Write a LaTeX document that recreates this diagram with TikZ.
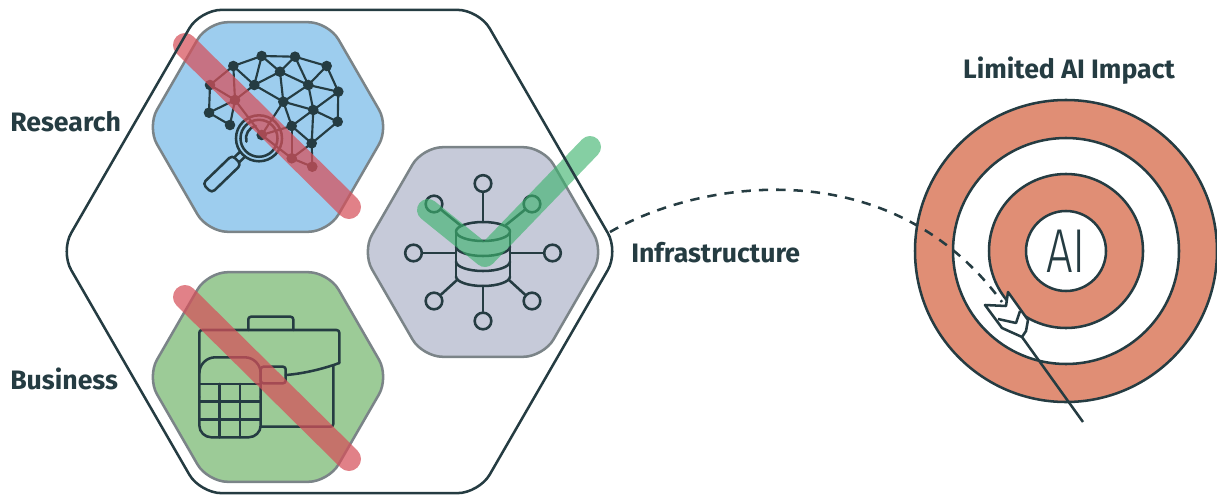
\documentclass[tikz,border=0pt]{standalone}
\usepackage{fontspec}
\setmainfont{Fira Sans}
\newfontfamily\lightfont{Fira Sans Light}

\definecolor{ink}{HTML}{253C42}
\definecolor{tileline}{HTML}{7B8488}
\definecolor{resblue}{HTML}{9DCDEE}
\definecolor{infragray}{HTML}{C6CAD9}
\definecolor{busgreen}{HTML}{9CCB97}
\definecolor{strikered}{HTML}{D6505A}
\definecolor{checkgreen}{HTML}{3DB36E}
\definecolor{ringorange}{HTML}{E08E75}

% flat-topped hexagon: [style]{cx}{cy}{R}, started mid-edge so every corner gets rounded
\newcommand{\hexagon}[4][]{%
  \path[#1] (#2,{#3-0.866*#4}) -- ({#2+#4/2},{#3-0.866*#4}) -- ({#2+#4},#3)
    -- ({#2+#4/2},{#3+0.866*#4}) -- ({#2-#4/2},{#3+0.866*#4})
    -- ({#2-#4},#3) -- ({#2-#4/2},{#3-0.866*#4}) -- cycle;}

\begin{document}
\begin{tikzpicture}[x=0.75pt,y=-0.75pt,
    tile/.style={draw=tileline,line width=1.9pt,rounded corners=15pt},
    frame/.style={draw=ink,line width=1.9pt,rounded corners=16pt},
    icon/.style={draw=ink,line width=1.9pt,line cap=round,line join=round},
    net/.style={draw=ink,line width=1.6pt},
    port/.style={circle,draw=ink,line width=1.9pt,minimum size=12.5pt,inner sep=0pt},
    strike/.style={draw=strikered,line width=18pt,line cap=round,opacity=0.72},
    tick/.style={draw=checkgreen,line width=16.5pt,line cap=round,line join=round,opacity=0.63},
    ring/.style={draw=ink,line width=1.9pt},
    heading/.style={text=ink,font=\bfseries\fontsize{20}{22}\selectfont,inner sep=0pt}]

  \useasboundingbox (0,0) rectangle (1217,496);

  % the three tiles
  \hexagon[tile,fill=resblue]{268}{127}{121}
  \hexagon[tile,fill=infragray]{483}{252}{121}
  \hexagon[tile,fill=busgreen]{268}{377}{121}

  % research: brain network
  \foreach \n/\x/\y in {1/261.7/56, 2/295/56.7, 3/326.7/66, 4/233.3/66, 5/280/71.7,
      6/210/85, 7/254.3/85, 8/308.3/85, 9/338.3/91.7, 10/235/100,
      11/283.3/101.7, 12/313.3/110, 13/209/112.7, 14/337.7/121.7, 15/230/125,
      16/291.7/126, 17/261.7/135, 18/311.7/143.3, 19/291.7/158.3, 20/312.3/166.7}
    \coordinate (b\n) at (\x,\y);
  \foreach \a/\b in {1/2, 1/4, 1/5, 1/7, 2/3, 2/5, 2/8, 3/8, 3/9, 4/6, 4/7, 4/10,
      5/7, 5/8, 5/11, 6/10, 6/13, 7/10, 7/11, 8/9, 8/11, 8/12, 9/12, 9/14,
      10/13, 10/15, 10/17, 11/12, 11/16, 11/17, 12/14, 12/16, 12/18, 13/15,
      14/18, 16/17, 16/18, 16/19, 17/19, 18/19, 18/20, 19/20}
    \draw[net] (b\a) -- (b\b);
  \foreach \n in {1,...,20}
    \fill[ink] (b\n) circle[radius=5.3];

  % magnifying glass
  \coordinate (lens) at (259,138.3);
  \draw[icon] (lens) circle[radius=23];
  \draw[icon] (lens) circle[radius=18.5];
  \draw[icon] (lens) ++({13*cos(165)},{13*sin(165)}) arc[start angle=165,end angle=255,radius=13];
  \begin{scope}[shift={(lens)},rotate=224]
    \draw[icon] (23,-3.5) -- (31,-3.5) (23,3.5) -- (31,3.5);
    \draw[icon,rounded corners=3pt] (31,-6.5) rectangle (72,6.5);
  \end{scope}

  \draw[strike] (185,45) -- (349,207);

  % infrastructure: database with links
  \draw[icon] (483,231.5) ellipse[x radius=27,y radius=9.5];
  \draw[icon] (456,231.5) -- (456,276.5) (510,231.5) -- (510,276.5);
  \foreach \y in {246.5,261.5,276.5}
    \draw[icon] (456,\y) arc[start angle=180,end angle=0,x radius=27,y radius=9.5];

  \node[port] (p1) at (483,183.5) {};
  \node[port] (p2) at (532,204) {};
  \node[port] (p3) at (552.5,253) {};
  \node[port] (p4) at (532,301) {};
  \node[port] (p5) at (483,321) {};
  \node[port] (p6) at (434,301) {};
  \node[port] (p7) at (413.5,253) {};
  \node[port] (p8) at (434,204) {};
  \coordinate (c1) at (483,222);
  \coordinate (c2) at (506,225);
  \coordinate (c3) at (510,253);
  \coordinate (c4) at (509,280);
  \coordinate (c5) at (483,286);
  \coordinate (c6) at (457,280);
  \coordinate (c7) at (456,253);
  \coordinate (c8) at (460,225);
  \foreach \i in {1,...,8}
    \draw[icon] (p\i) -- (c\i);

  \draw[tick] (428,210) -- (485,256) -- (590,147);

  % business: briefcase and calculator
  \draw[icon,rounded corners=2pt] (248.3,330) -- (248.3,316.7) -- (293.3,316.7) -- (293.3,330);
  \draw[icon,rounded corners=2pt] (199.3,373) -- (199.3,330) -- (339.3,330) -- (339.3,363);
  \draw[icon] (339.3,363) .. controls (320,370) and (300,374) .. (285.7,375);
  \draw[icon,rounded corners=2pt] (333.3,366) -- (333.3,426.7) -- (260.7,426.7);
  \draw[icon,rounded corners=2pt] (260.7,366.7) rectangle (285.7,383.3);
  \draw[icon,rounded corners=12pt] (199.3,397) -- (199.3,357.3) -- (260.7,357.3) -- (260.7,397);
  \draw[icon,rounded corners=9pt] (260.7,397) -- (260.7,437.3) -- (199.3,437.3) -- (199.3,397);
  \foreach \y in {384,401.7,419.3}
    \draw[icon] (199.3,\y) -- (260.7,\y);
  \foreach \x in {219.3,240}
    \draw[icon] (\x,384) -- (\x,437.3);

  \draw[strike] (185,297) -- (349,459);

  % outer frame
  \hexagon[frame]{339.5}{251.5}{279}

  \node[heading,anchor=base west] (research) at (10,131) {Research};
  \node[heading,anchor=base west] (business) at (10,389) {Business};
  \node[heading,anchor=base west] (infra) at (631,262) {Infrastructure};

  % target
  \coordinate (bull) at (1066,251);
  \foreach \r/\c in {151/ringorange,113/white,77/ringorange,40/white}
    \draw[ring,fill=\c] (bull) circle[radius=\r];
  \node[text=ink,font=\lightfont\fontsize{46.5}{50}\selectfont,xscale=0.76,inner sep=0pt] (ai) at (bull) {AI};
  \node[heading,anchor=base] (impact) at (1069,78) {Limited AI Impact};

  % flight path and arrow
  \coordinate (launch) at (610,232);
  \coordinate (landing) at (1002,302);
  \draw[ink,line width=1.9pt,dash pattern=on 7pt off 6pt] (launch) .. controls (700,180) and (890,150) .. (landing);

  \coordinate (nock) at (1022,337);
  \coordinate (shaftend) at (1083,422);
  \draw[ring] (nock) -- (shaftend);
  \draw[ring,fill=white,line join=round] (1008,292) -- (1028,320) -- (1026,331) -- (nock)
    -- (1002,328) -- (985,305) -- (1006,306) -- cycle;
  \draw[ring,line join=round] (998,319) -- (1016,323) -- (1020,311);
\end{tikzpicture}
\end{document}
